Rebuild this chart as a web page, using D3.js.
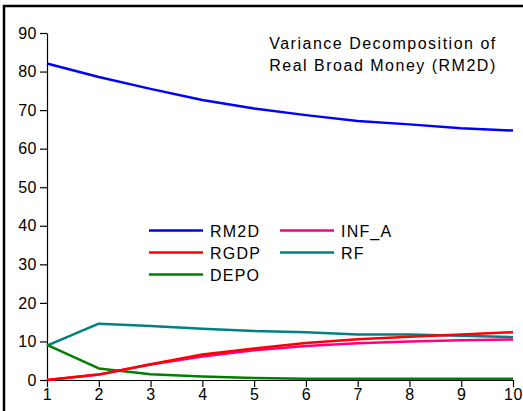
<!DOCTYPE html>
<html>
<head>
<style>
  body { margin: 0; background: #fff; }
  text { font-family: "Liberation Sans", Arial, sans-serif; }
</style>
</head>
<body>
<div id="chart"></div>
<script src="https://cdn.jsdelivr.net/npm/d3@7"></script>
<script>
var width = 523, height = 411;

var periods = [1, 2, 3, 4, 5, 6, 7, 8, 9, 10];
var yTicks = [0, 10, 20, 30, 40, 50, 60, 70, 80, 90];

var rm2d = [82.1, 78.6, 75.5, 72.6, 70.4, 68.7, 67.2, 66.3, 65.3, 64.7];
var rgdp = [0, 1.4, 4.1, 6.6, 8.2, 9.6, 10.6, 11.2, 11.8, 12.4];
var infA = [0, 1.4, 4.0, 6.1, 7.7, 8.8, 9.5, 10.0, 10.3, 10.5];
var rf = [8.9, 14.6, 14.0, 13.3, 12.7, 12.4, 11.8, 11.8, 11.5, 11.1];
var depo = [9.1, 3.0, 1.5, 0.9, 0.5, 0.3, 0.3, 0.3, 0.3, 0.3];

var seriesNames = ["RM2D", "RGDP", "DEPO", "INF_A", "RF"];
var seriesColors = ["#0000ff", "#ff0000", "#008000", "#ff0080", "#008080"];
var seriesData = [rm2d, rgdp, depo, infA, rf];

var titleLines = ["Variance Decomposition of", "Real Broad Money (RM2D)"];

var svg = d3.select("#chart").append("svg")
  .attr("width", width).attr("height", height);

// frame
svg.append("rect")
  .attr("x", 4).attr("y", 6)
  .attr("width", width + 10).attr("height", height + 10)
  .attr("fill", "none").attr("stroke", "#000").attr("stroke-width", 2.5);

var x = d3.scaleLinear().domain([1, 10]).range([47, 513]);
var y = d3.scaleLinear().domain([0, 90]).range([380, 33]);

var yAxis = svg.append("g")
  .attr("transform", "translate(47,0)")
  .call(d3.axisLeft(y).tickValues(yTicks).tickSize(7).tickSizeOuter(0).tickPadding(3));

var xAxis = svg.append("g")
  .attr("transform", "translate(0,380)")
  .call(d3.axisBottom(x).tickValues(periods).tickSize(7).tickSizeOuter(0).tickPadding(2));

[yAxis, xAxis].forEach(function (g) {
  g.selectAll("path, line").attr("stroke", "#000").attr("stroke-width", 1.2);
  g.selectAll("text")
    .attr("fill", "#000")
    .style("font-size", "16px")
    .style("letter-spacing", "0.5px")
    .style("font-family", "'Liberation Sans', Arial, sans-serif");
});

var line = d3.line()
  .x(function (d, i) { return x(periods[i]); })
  .y(function (d) { return y(d); });

// draw order: RF, DEPO, INF_A, RGDP, RM2D
var drawOrder = [4, 2, 3, 1, 0];
drawOrder.forEach(function (k) {
  svg.append("path")
    .datum(seriesData[k])
    .attr("d", line)
    .attr("fill", "none")
    .attr("stroke", seriesColors[k])
    .attr("stroke-width", 2.5)
    .attr("stroke-linejoin", "round");
});

// legend
var legendPos = [
  { lx: 149, ly: 230.5 },
  { lx: 149, ly: 252.5 },
  { lx: 149, ly: 274.5 },
  { lx: 280, ly: 230.5 },
  { lx: 280, ly: 252.5 }
];
var legend = svg.append("g");
seriesNames.forEach(function (name, i) {
  var p = legendPos[i];
  legend.append("line")
    .attr("x1", p.lx).attr("x2", p.lx + 54)
    .attr("y1", p.ly).attr("y2", p.ly)
    .attr("stroke", seriesColors[i]).attr("stroke-width", 2.5);
  legend.append("text")
    .attr("x", p.lx + 61).attr("y", p.ly + 6)
    .style("font-size", "16px")
    .style("letter-spacing", "1.2px")
    .text(name);
});

svg.append("g").selectAll("text")
  .data(titleLines)
  .join("text")
  .attr("x", 383).attr("y", function (d, i) { return 49 + i * 21.7; })
  .attr("text-anchor", "middle")
  .style("font-size", "16px")
  .style("letter-spacing", "1.5px")
  .text(function (d) { return d; });
</script>
</body>
</html>
